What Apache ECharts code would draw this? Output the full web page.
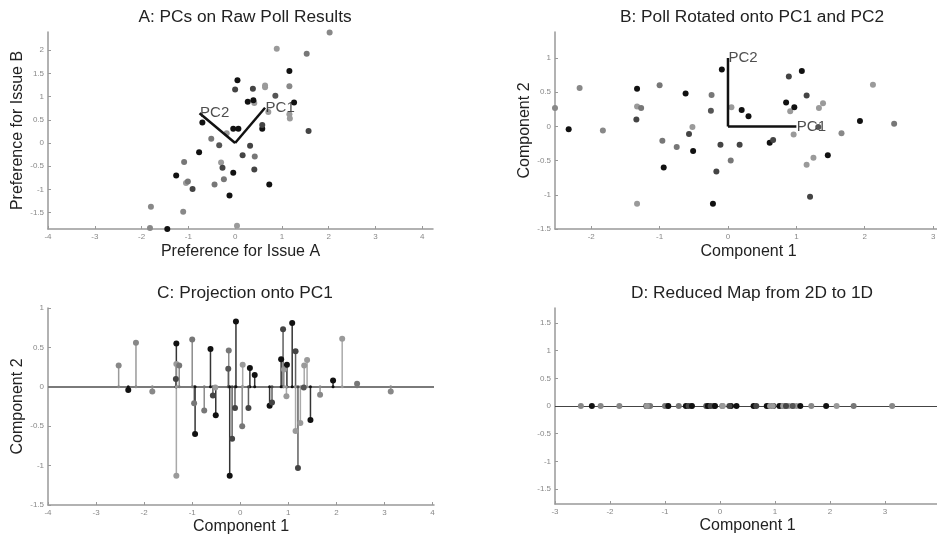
<!DOCTYPE html>
<html><head><meta charset="utf-8">
<script src="https://cdn.jsdelivr.net/npm/echarts@6/dist/echarts.min.js"></script>
<style>html,body{margin:0;padding:0;background:#fff}#c{width:937px;height:535px}</style>
</head><body><div id="c"></div>
<script>
// Rotated coordinates (panel B / C / D)
const comp1 = [-2.53,-2.17,-2.33,-1.83,-1.33,-1.33,-1.27,-1.34,-1.33,-1.00,-0.96,-0.94,-0.75,-0.62,-0.52,-0.57,-0.51,-0.24,-0.25,-0.22,-0.17,-0.11,-0.09,0.04,0.05,0.20,0.17,0.30,0.61,0.66,0.89,1.08,0.85,0.91,0.97,1.15,0.96,1.33,1.39,1.25,1.15,1.46,1.20,1.66,1.93,2.12,2.43,3.13,1.32];
const comp2 = [0.27,0.56,-0.04,-0.06,0.55,0.29,0.27,0.10,-1.13,0.60,-0.21,-0.60,-0.30,0.48,-0.01,-0.11,-0.36,0.46,0.23,-1.13,-0.66,-0.27,0.83,-0.50,0.28,0.24,-0.27,0.15,-0.24,-0.20,0.73,0.81,0.35,0.22,0.28,0.45,-0.12,0.27,0.34,-0.46,-0.56,-0.42,-1.03,-0.10,0.08,0.61,0.04,-0.06,-0.01];
// Raw poll results (panel A)
const issueA = [-1.82,-1.80,-1.45,-1.11,-1.26,-1.05,-1.01,-0.91,0.04,-1.09,-0.44,-0.12,-0.24,-0.77,-0.30,-0.27,-0.04,-0.51,-0.34,0.73,0.41,0.16,-0.70,0.42,-0.18,-0.04,0.32,0.07,0.58,0.58,0.00,0.05,0.27,0.41,0.39,0.38,0.71,0.64,0.64,1.16,1.17,1.26,1.57,1.16,1.16,0.89,1.53,2.02,0.86];
const issueB = [-1.83,-1.37,-1.85,-1.48,-0.70,-0.86,-0.83,-0.99,-1.78,-0.41,-0.89,-1.13,-0.78,-0.20,-0.42,-0.53,-0.64,0.09,-0.05,-0.89,-0.57,-0.26,0.44,-0.29,0.21,0.31,-0.06,0.31,0.31,0.39,1.15,1.35,0.89,0.86,0.92,1.17,0.67,1.20,1.24,0.62,0.53,0.87,0.26,1.22,1.55,2.03,1.92,2.38,1.02];
// Shade of each respondent's marker
const shade = ['#888','#888','#111','#888','#111','#9a9a9a','#777','#444','#9a9a9a','#777','#777','#111','#777','#111','#9a9a9a','#444','#111','#777','#555','#111','#444','#444','#111','#777','#9a9a9a','#111','#444','#111','#111','#444','#444','#111','#111','#9a9a9a','#111','#444','#9a9a9a','#9a9a9a','#9a9a9a','#9a9a9a','#9a9a9a','#111','#444','#888','#111','#9a9a9a','#777','#888','#555'];
// Principal component vectors
const pcRawPC1 = [[0,0],[0.64,0.76]];
const pcRawPC2 = [[0,0],[-0.76,0.64]];
const pcRotPC1 = [[0,0],[1,0]];
const pcRotPC2 = [[0,0],[0,1]];
// Titles
const titles = ['A: PCs on Raw Poll Results','B: Poll Rotated onto PC1 and PC2','C: Projection onto PC1','D: Reduced Map from 2D to 1D'];
// Tick values
const ticksAx = [-4,-3,-2,-1,0,1,2,3,4];
const ticksAy = [-1.5,-1,-0.5,0,0.5,1,1.5,2];
const ticksBx = [-2,-1,0,1,2,3];
const ticksBy = [-1.5,-1,-0.5,0,0.5,1];
const ticksCx = [-4,-3,-2,-1,0,1,2,3,4];
const ticksCy = [-1.5,-1,-0.5,0,0.5,1];
const ticksDx = [-3,-2,-1,0,1,2,3,4];
const ticksDy = [-1.5,-1,-0.5,0,0.5,1,1.5];

const FF = '"Liberation Sans", Arial, sans-serif';
const zip = (a,b) => a.map((v,i)=>[v,b[i]]);
const colorFn = p => shade[p.dataIndex];

function ax(dim, idx, min, max, ticks, name, gap){
  return {
    type:'value', gridIndex: idx, min, max, name,
    nameLocation:'middle', nameGap: gap,
    nameTextStyle:{fontSize:16, color:'#222', fontFamily:FF},
    axisLine:{show:true, onZero:false, lineStyle:{color:'#999', width:1.5}},
    axisTick:{show:true, inside:true, length:3, customValues:ticks, lineStyle:{color:'#999', width:1}},
    axisLabel:{customValues:ticks, fontSize:8, color:'#888', fontFamily:FF, margin:4},
    splitLine:{show:false}
  };
}
function grid(left, right, top, bottom){
  return {left, right, top, bottom, containLabel:false, outerBoundsMode:'none'};
}
function scatter(idx, data, size){
  return {type:'scatter', xAxisIndex:idx, yAxisIndex:idx, data, symbolSize:size, clip:false,
    itemStyle:{color:colorFn, opacity:1}, z:5, silent:true};
}
function pcLine(idx, data){
  return {type:'line', xAxisIndex:idx, yAxisIndex:idx, data, showSymbol:false, symbol:'none',
    lineStyle:{color:'#111', width:2.5}, z:6, silent:true};
}
function pcLabel(idx, pt, text){
  return {type:'scatter', xAxisIndex:idx, yAxisIndex:idx, data:[pt], symbolSize:1, z:7, silent:true,
    itemStyle:{color:'rgba(0,0,0,0)'},
    label:{show:true, position:'right', distance:0, formatter:text, fontSize:15, color:'#222', fontFamily:FF}};
}

const chart = echarts.init(document.getElementById('c'), null, {renderer:'canvas'});
chart.setOption({
  animation:false,
  backgroundColor:'#fff',
  title: [
    {text:titles[0], left:240, top:4, textAlign:'center'},
    {text:titles[1], left:747, top:4, textAlign:'center'},
    {text:titles[2], left:240, top:280, textAlign:'center'},
    {text:titles[3], left:747, top:280, textAlign:'center'}
  ].map(t => Object.assign(t, {textStyle:{fontSize:17.3, fontWeight:'normal', color:'#222', fontFamily:FF}})),
  grid: [grid(48,504,32,306), grid(555,-5,32,306), grid(48,503,308,30), grid(555,-3,308,31)],
  xAxis: [
    ax('x',0,-4,4.23,ticksAx,'Preference for Issue A',15),
    ax('x',1,-2.53,3.13,ticksBx,'Component 1',15),
    ax('x',2,-4,4.03,ticksCx,'Component 1',14),
    ax('x',3,-3,4,ticksDx,'Component 1',14)
  ],
  yAxis: [
    ax('y',0,-1.85,2.39,ticksAy,'Preference for Issue B',22),
    ax('y',1,-1.5,1.38,ticksBy,'Component 2',22),
    ax('y',2,-1.5,1,ticksCy,'Component 2',22),
    ax('y',3,-1.77,1.77,ticksDy,'',22)
  ],
  series: [
    // Panel A
    scatter(0, zip(issueA, issueB), 6),
    pcLine(0, pcRawPC1), pcLine(0, pcRawPC2),
    pcLabel(0, pcRawPC1[1], 'PC1'), pcLabel(0, pcRawPC2[1], 'PC2'),
    // Panel B
    scatter(1, zip(comp1, comp2), 6),
    pcLine(1, pcRotPC1), pcLine(1, pcRotPC2),
    pcLabel(1, pcRotPC1[1], 'PC1'), pcLabel(1, pcRotPC2[1], 'PC2'),
    // Panel C: stems
    {type:'custom', xAxisIndex:2, yAxisIndex:2, data: zip(comp1, comp2), z:3, silent:true,
      renderItem:(params, api) => {
        const x = api.value(0), y = api.value(1);
        const p0 = api.coord([x,0]), p1 = api.coord([x,y]);
        return {type:'line', shape:{x1:p0[0],y1:p0[1],x2:p1[0],y2:p1[1]},
          style:{stroke: shade[params.dataIndex], lineWidth:1.5, opacity:0.85}};
      }},
    {type:'line', xAxisIndex:2, yAxisIndex:2, data:[], z:2, silent:true,
      markLine:{silent:true, symbol:'none', label:{show:false}, data:[{yAxis:0}],
        lineStyle:{color:'#7a7a7a', width:2, type:'solid'}, emphasis:{disabled:true}}},
    scatter(2, comp1.map(v=>[v,0]), 3),
    scatter(2, zip(comp1, comp2), 6),
    // Panel D
    {type:'line', xAxisIndex:3, yAxisIndex:3, data:[], z:2, silent:true,
      markLine:{silent:true, symbol:'none', label:{show:false}, data:[{yAxis:0}],
        lineStyle:{color:'#444', width:1, type:'solid'}, emphasis:{disabled:true}}},
    scatter(3, comp1.map(v=>[v,0]), 6)
  ]
});
</script></body></html>
